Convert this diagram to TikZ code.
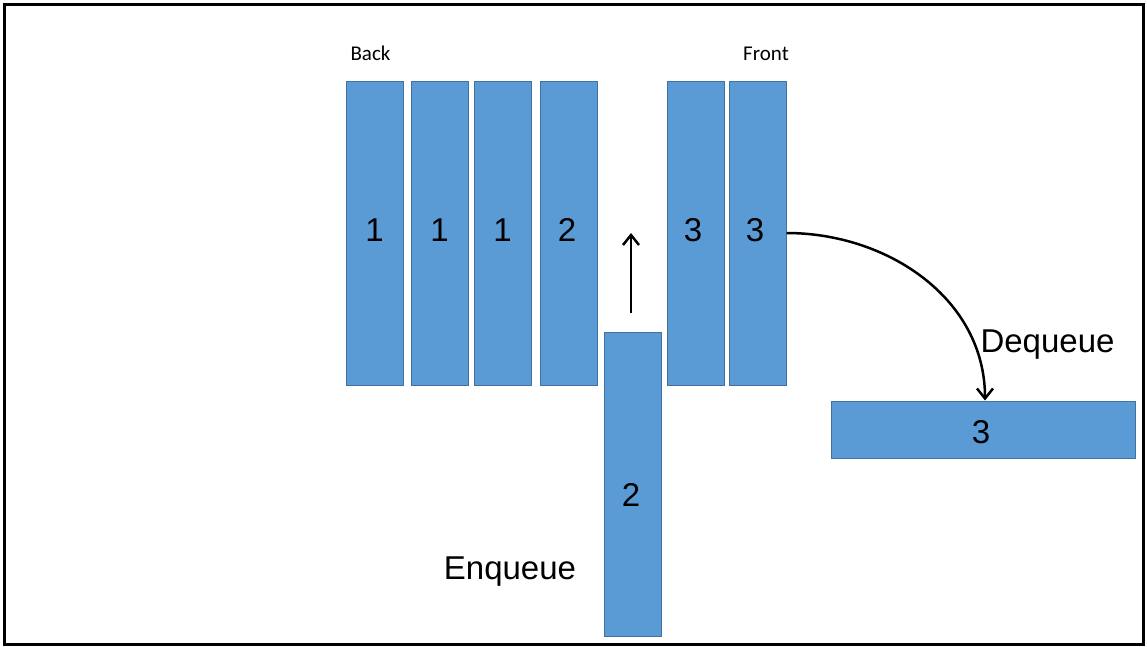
\documentclass[tikz,border=0pt]{standalone}
\usepackage{fontspec}
\setmainfont{Liberation Sans}
\newfontfamily\calib{Carlito}
\usetikzlibrary{arrows.meta}
\definecolor{boxfill}{HTML}{5B9BD5}
\definecolor{boxline}{HTML}{41719C}
\tikzset{
  qbox/.style={draw=boxline, line width=1pt, fill=boxfill, inner sep=0pt,
    minimum width=57pt, minimum height=304pt, font=\fontsize{33}{40}\selectfont},
  hbox/.style={qbox, minimum width=304pt, minimum height=57pt},
  bigtxt/.style={font=\fontsize{33}{40}\selectfont, inner sep=0pt},
  smalltxt/.style={font=\calib\fontsize{21}{25}\selectfont, inner sep=0pt},
  flow/.style={line width=2.5pt, -{Straight Barb[length=10pt,width=16pt]}}
}
\begin{document}
\begin{tikzpicture}[x=1pt,y=-1pt]
\useasboundingbox (0,0) rectangle (1147,646);
\draw[line width=3pt] (4.5,4.5) rectangle (1143.5,644.5);

\node[qbox] (b1) at (374.5,233) {};
\node[qbox] (b2) at (439.5,233) {};
\node[qbox] (b3) at (502.5,233) {};
\node[qbox] (b4) at (569,233) {};
\node[qbox] (b5) at (695.5,233) {};
\node[qbox] (b6) at (757.5,233) {};
\node[qbox] (enq) at (632.5,484) {};
\node[hbox] (dq) at (983,429.5) {};

\node[bigtxt] (t1) at (374.5,230) {1};
\node[bigtxt] (t2) at (439.5,230) {1};
\node[bigtxt] (t3) at (502.5,230) {1};
\node[bigtxt] (t4) at (567,230) {2};
\node[bigtxt] (t5) at (693,230) {3};
\node[bigtxt] (t6) at (755,230) {3};
\node[bigtxt] (t7) at (631,495) {2};
\node[bigtxt] (t8) at (981,432) {3};

\node[smalltxt] (back) at (370.5,53) {Back};
\node[smalltxt] (front) at (766,54) {Front};
\node[bigtxt] (deq) at (1047.5,345) {Dequeue};
\node[bigtxt] (enql) at (510,572) {Enqueue};

\coordinate (uptip) at (631,233);
\draw[flow, shorten <=19pt] (enq.north -| uptip) -- (uptip);
\draw[flow] (b6.east) to[out=0,in=90] ([xshift=2pt]dq.north);
\end{tikzpicture}
\end{document}
